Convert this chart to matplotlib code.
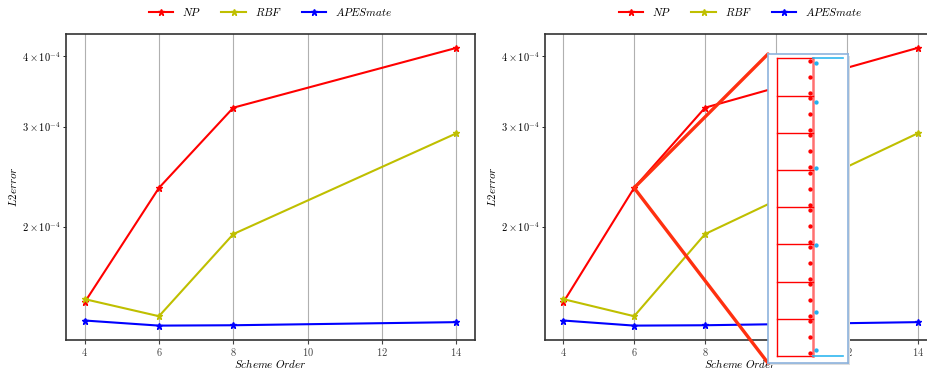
import numpy as np
import matplotlib
matplotlib.use("Agg")
import matplotlib.pyplot as plt
from matplotlib.patches import ConnectionPatch, Rectangle

plt.rcParams['font.family'] = 'serif'
plt.rcParams['font.serif'] = ['cmr10']
plt.rcParams['mathtext.fontset'] = 'cm'
plt.rcParams['axes.formatter.use_mathtext'] = True

# scheme order vs L2 error
orders = [4, 6, 8, 14]
np_err = [1.47e-4, 2.34e-4, 3.24e-4, 4.13e-4]
rbf_err = [1.49e-4, 1.39e-4, 1.94e-4, 2.92e-4]
apes_err = [1.366e-4, 1.338e-4, 1.340e-4, 1.357e-4]
xticks = [4, 6, 8, 10, 12, 14]

# stencil sketch in the zoom box (level units)
levels = [0, 1, 2, 3, 4, 5, 6, 7, 8]
red_pts = [0.07, 0.5, 0.93, 1.07, 1.5, 1.93, 2.07, 2.5, 2.93, 3.07, 3.5, 3.93,
           4.07, 4.5, 4.93, 5.07, 5.5, 5.93, 6.07, 6.5, 6.93, 7.07, 7.5, 7.93]
cyan_pts = [0.15, 1.17, 2.97, 5.05, 6.84, 7.87]

fig = plt.figure(figsize=(9.28, 3.7), dpi=100)
ax1 = fig.add_axes([66/928, 30.5/370, 409/928, 305.5/370])
ax2 = fig.add_axes([545.5/928, 30.5/370, 390/928, 305.5/370])

for ax in (ax1, ax2):
    ax.plot(orders, np_err, 'r-*', lw=1.5, ms=5, label='$NP$')
    ax.plot(orders, rbf_err, 'y-*', lw=1.5, ms=5, label='$RBF$')
    ax.plot(orders, apes_err, 'b-*', lw=1.5, ms=5, label='$APESmate$')
    ax.set_yscale('log')
    ax.set_xticks(xticks)
    ax.grid(axis='x', color='#b0b0b0', lw=0.8)
    ax.set_xlabel('$Scheme\\ Order$', fontsize=8, labelpad=-0.5)
    ax.set_ylabel('$L2error$', fontsize=8, labelpad=2)
    ax.tick_params(labelsize=7.5, colors='#444444', labelcolor='#444444',
                   length=3, pad=1.5)
    ax.tick_params(axis='y', which='minor', labelsize=7.5, length=2, pad=2)
    for s in ax.spines.values():
        s.set_color('#333333')
        s.set_linewidth(1.2)
    ax.legend(loc='center', bbox_to_anchor=(0.5, 1.072), ncol=3, frameon=False,
              fontsize=8, handlelength=2.2, columnspacing=1.8)

# zoom box with stencil
ins = fig.add_axes([768/928, 7/370, 80/928, 309/370], zorder=5)
ins.set_xlim(-0.25, 1.97)
ins.set_ylim(-0.19, 8.12)
ins.set_xticks([])
ins.set_yticks([])
for s in ins.spines.values():
    s.set_color('#8db3dd')
    s.set_linewidth(1.2)
ins.plot([0, 0], [levels[0], levels[-1]], color='r', lw=1)
ins.plot([1, 1], [levels[0], levels[-1]], color='#ff7070', lw=1.8)
for lv in levels:
    ins.plot([0, 1], [lv, lv], color='r', lw=1)
ins.plot([1, 1.83], [levels[0], levels[0]], color='#30b8f0', lw=1.2)
ins.plot([1, 1.83], [levels[-1], levels[-1]], color='#30b8f0', lw=1.2)
ins.plot([0.92] * len(red_pts), red_pts, 'o', color='r', ms=2.1)
ins.plot([1.07] * len(cyan_pts), cyan_pts, 'o', color='#20b0f0', ms=2.1)

shadow = Rectangle((770/928, 5/370), 80/928, 309/370, transform=fig.transFigure,
                   facecolor='#dedede', edgecolor='none', zorder=4)
fig.add_artist(shadow)

for corner in [(0, 1), (0, 0)]:
    con = ConnectionPatch(xyA=(orders[1], np_err[1]), coordsA=ax2.transData,
                          xyB=corner, coordsB=ins.transAxes,
                          color='#ff3010', lw=2.4, zorder=3)
    fig.add_artist(con)

fig.savefig('out.png', dpi=100)
